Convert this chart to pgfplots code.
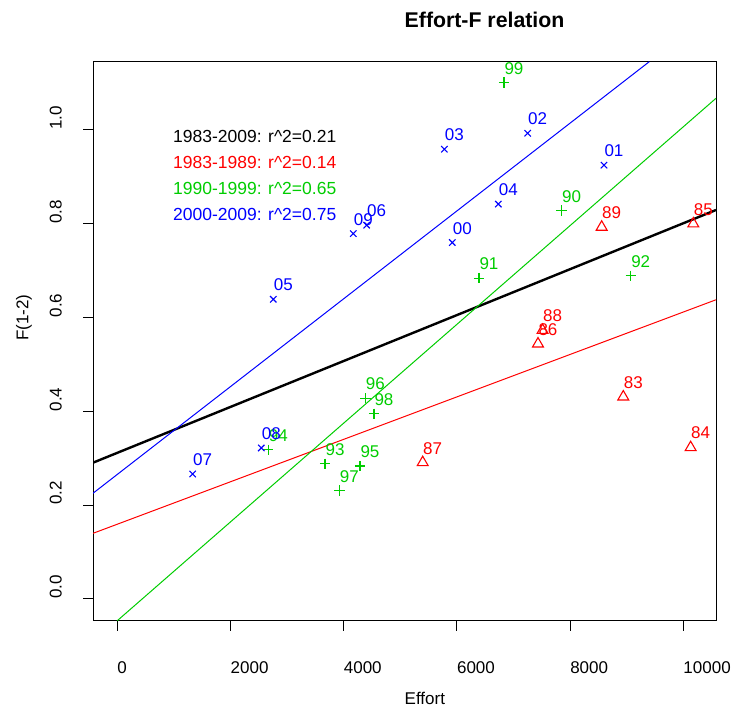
\documentclass[border=0pt]{standalone}
\usepackage{fontspec}
\setmainfont{Liberation Sans}
\usepackage{pgfplots}
\usepackage{pgfplotstable}
\pgfplotsset{compat=1.18}
\definecolor{rblue}{HTML}{0000FF}
\definecolor{rred}{HTML}{FF0000}
\definecolor{rgreen}{HTML}{00CD00}

\pgfplotstableread{
x y lab
5919 0.760 00
8599 0.925 01
7251 0.993 02
5779 0.959 03
6732 0.842 04
2756 0.639 05
4406 0.797 06
1332 0.2665 07
2544 0.322 08
4170 0.779 09
}\bluedata

\pgfplotstableread{
x y lab
7851 0.828 90
6390 0.684 91
9071 0.689 92
3670 0.288 93
2668 0.318 94
4288 0.2836 95
4382 0.428 96
3925 0.231 97
4535 0.395 98
6832 1.101 99
}\greendata

\pgfplotstableread{
x y lab
8940 0.431 83
10130 0.323 84
10177 0.800 85
7433 0.544 86
5396 0.291 87
7514 0.573 88
8558 0.793 89
}\reddata

\begin{document}
\begin{tikzpicture}[x=1pt,y=1pt]
\path[use as bounding box] (0,0) rectangle (734,709);
\begin{axis}[
  at={(93pt,88.3pt)}, anchor=south west,
  width=623pt, height=559pt, scale only axis,
  xmin=-429, xmax=10578, ymin=-0.0463, ymax=1.1456,
  xtick={0,2000,4000,6000,8000,10000},
  ytick={0,0.2,0.4,0.6,0.8,1.0},
  scaled ticks=false,
  tick align=outside, major tick length=10pt,
  xtick pos=bottom, ytick pos=left,
  tick style={line width=1pt, black},
  axis line style={line width=1pt},
  /pgf/number format/assume math mode=true,
  x tick label style={/pgf/number format/fixed, /pgf/number format/1000 sep={}},
  y tick label style={/pgf/number format/fixed, /pgf/number format/fixed zerofill, /pgf/number format/precision=1},
  xticklabel style={anchor=base west, inner sep=0pt, yshift=-42.6pt, font=\fontsize{17}{20}\selectfont},
  yticklabel style={xshift=-21.3pt, rotate=90, anchor=base west, inner sep=0pt, font=\fontsize{17}{20}\selectfont},
  xlabel={Effort}, ylabel={F(1-2)}, title={Effort-F relation},
  every axis x label/.style={at={(axis description cs:0.5,0)}, anchor=base west, yshift=-84.3pt, inner sep=0pt, font=\fontsize{17}{20}\selectfont},
  every axis y label/.style={at={(axis description cs:0,0.5)}, xshift=-64.7pt, rotate=90, anchor=base west, inner sep=0pt, font=\fontsize{17}{20}\selectfont},
  every axis title/.style={at={(axis description cs:0.5,1)}, anchor=base west, yshift=34.4pt, inner sep=0pt, font=\fontsize{21.3}{25}\selectfont\bfseries},
]
% regression lines
\addplot[black, line width=2.4pt, no marks] coordinates {(-429,0.2906) (10578,0.8294)};
\addplot[rred, line width=1pt, no marks] coordinates {(-429,0.140) (10578,0.638)};
\addplot[rgreen, line width=1pt, no marks] coordinates {(0,-0.0463) (10578,1.0676)};
\addplot[rblue, line width=1pt, no marks] coordinates {(-429,0.2254) (9399,1.1456)};
% points
\addplot[only marks, mark=triangle, mark size=6.3pt, color=rred, mark options={line width=1.1pt, draw=rred},
  nodes near coords, point meta=explicit symbolic,
  every node near coord/.style={anchor=base west, inner sep=0pt, yshift=8.5pt, font=\fontsize{17}{20}\selectfont, text=rred}]
  table[x index=0, y index=1, meta index=2] {\reddata};
\addplot[only marks, mark=+, mark size=5.2pt, color=rgreen, mark options={line width=1.1pt, draw=rgreen},
  nodes near coords, point meta=explicit symbolic,
  every node near coord/.style={anchor=base west, inner sep=0pt, yshift=8.5pt, font=\fontsize{17}{20}\selectfont, text=rgreen}]
  table[x index=0, y index=1, meta index=2] {\greendata};
\addplot[only marks, mark=x, mark size=4.5pt, color=rblue, mark options={line width=1.1pt, draw=rblue},
  nodes near coords, point meta=explicit symbolic,
  every node near coord/.style={anchor=base west, inner sep=0pt, yshift=8.5pt, font=\fontsize{17}{20}\selectfont, text=rblue}]
  table[x index=0, y index=1, meta index=2] {\bluedata};
% legend text
\node[anchor=base west, inner sep=0pt, font=\fontsize{17.5}{20}\selectfont, text=black] at (rel axis cs:0.1284,0.8551) {1983-2009: r\textasciicircum 2=0.21};
\node[anchor=base west, inner sep=0pt, font=\fontsize{17.5}{20}\selectfont, text=rred] at (rel axis cs:0.1284,0.8093) {1983-1989: r\textasciicircum 2=0.14};
\node[anchor=base west, inner sep=0pt, font=\fontsize{17.5}{20}\selectfont, text=rgreen] at (rel axis cs:0.1284,0.7633) {1990-1999: r\textasciicircum 2=0.65};
\node[anchor=base west, inner sep=0pt, font=\fontsize{17.5}{20}\selectfont, text=rblue] at (rel axis cs:0.1284,0.7168) {2000-2009: r\textasciicircum 2=0.75};
\end{axis}
\end{tikzpicture}
\end{document}
